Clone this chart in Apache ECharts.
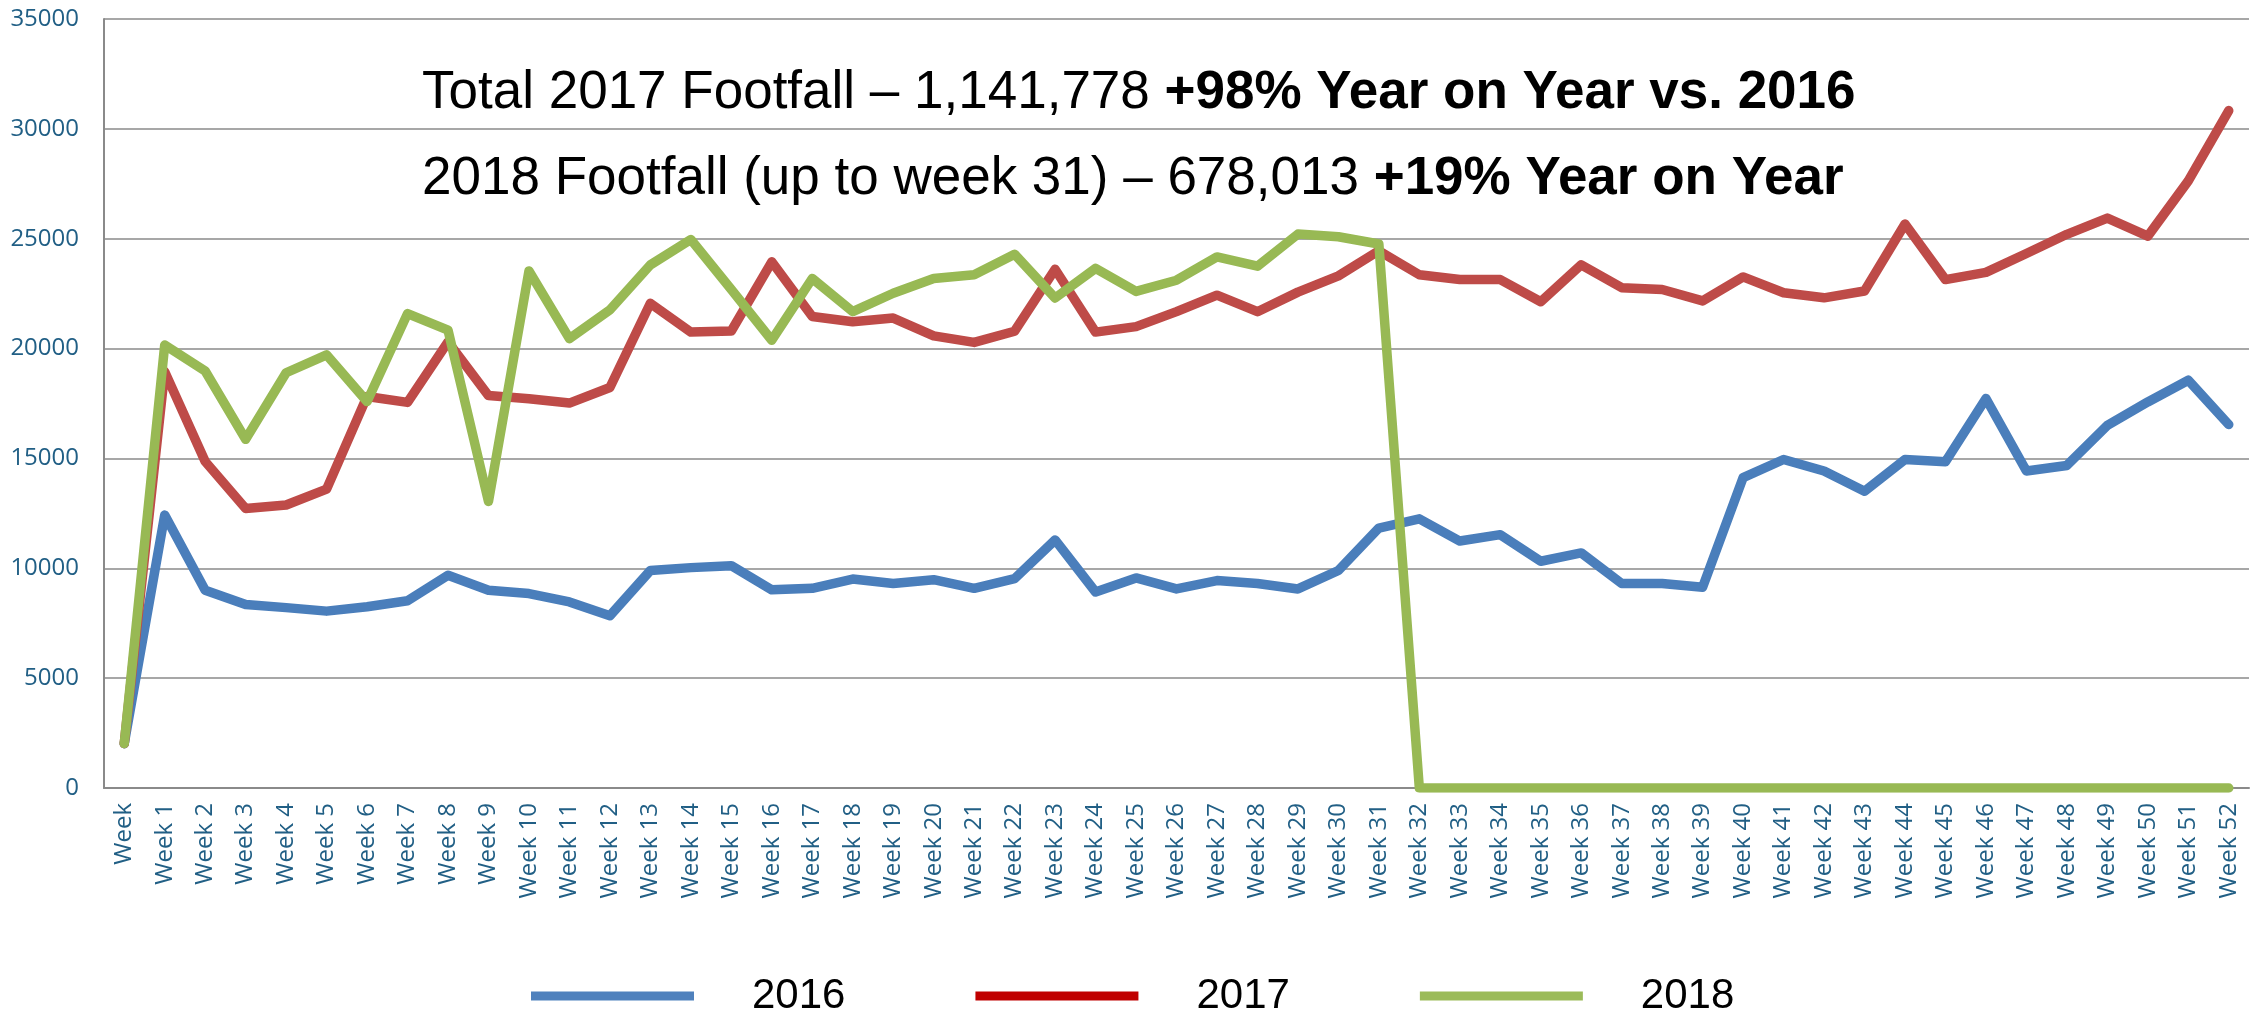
<!DOCTYPE html>
<html>
<head>
<meta charset="utf-8">
<title>Footfall</title>
<script src="https://cdn.jsdelivr.net/npm/echarts@6/dist/echarts.min.js"></script>
<style>
  html, body { margin: 0; padding: 0; background: #fff; }
  #main { width: 2262px; height: 1017px; }
</style>
</head>
<body>
<div id="main"></div>
<script>
// x 轴分类
const weeks = ['Week', 'Week 1', 'Week 2', 'Week 3', 'Week 4', 'Week 5', 'Week 6', 'Week 7', 'Week 8', 'Week 9',
  'Week 10', 'Week 11', 'Week 12', 'Week 13', 'Week 14', 'Week 15', 'Week 16', 'Week 17', 'Week 18', 'Week 19',
  'Week 20', 'Week 21', 'Week 22', 'Week 23', 'Week 24', 'Week 25', 'Week 26', 'Week 27', 'Week 28', 'Week 29',
  'Week 30', 'Week 31', 'Week 32', 'Week 33', 'Week 34', 'Week 35', 'Week 36', 'Week 37', 'Week 38', 'Week 39',
  'Week 40', 'Week 41', 'Week 42', 'Week 43', 'Week 44', 'Week 45', 'Week 46', 'Week 47', 'Week 48', 'Week 49',
  'Week 50', 'Week 51', 'Week 52'];

// footfall per week
const data2016 = [2020, 12420, 9000, 8350, 8210, 8050, 8250, 8520, 9680, 9000, 8850, 8470, 7840,
  9900, 10030, 10120, 9020, 9090, 9510, 9310, 9480, 9090, 9530, 11290, 8920, 9560,
  9060, 9440, 9310, 9060, 9900, 11830, 12250, 11240, 11530, 10320, 10700, 9310, 9310,
  9140, 14130, 14950, 14430, 13510, 14950, 14850, 17730, 14430, 14680, 16500, 17570, 18560, 16540];

const data2017 = [2020, 18950, 14860, 12720, 12880, 13600, 17820, 17550, 20300, 17860, 17720, 17520, 18230,
  22060, 20750, 20800, 23950, 21460, 21220, 21390, 20580, 20280, 20790, 23610, 20750, 21000,
  21680, 22430, 21680, 22570, 23310, 24450, 23360, 23140, 23140, 22130, 23810, 22770, 22690,
  22170, 23260, 22540, 22310, 22620, 25670, 23140, 23470, 24330, 25200, 25940, 25120, 27630, 30830];

const data2018 = [2020, 20160, 18980, 15870, 18900, 19710, 17590, 21590, 20840, 13040, 23530, 20450, 21760,
  23810, 24960, 22690, 20380, 23190, 21680, 22520, 23190, 23360, 24290, 22300, 23650, 22600,
  23110, 24170, 23750, 25210, 25090, 24760, 0, 0, 0, 0, 0, 0, 0,
  0, 0, 0, 0, 0, 0, 0, 0, 0, 0, 0, 0, 0, 0];

const yTicks = [0, 5000, 10000, 15000, 20000, 25000, 30000, 35000];

const labelColor = '#215F85';
const gridColor = '#8a8a8a';

let chart = echarts.init(document.getElementById('main'), null, { renderer: 'canvas' });

function lineSeries(name, data, color) {
  return {
    name: name,
    type: 'line',
    data: data,
    showSymbol: false,
    symbol: 'none',
    animation: false,
    lineStyle: { color: color, width: 9.5, cap: 'round', join: 'round' },
    itemStyle: { color: color }
  };
}

const option = {
  backgroundColor: '#fff',
  animation: false,
  // 标题 两行，后半部分加粗
  title: {
    left: 417,
    top: 45,
    text: '{n|Total 2017 Footfall \u2013 1,141,778 }{b|+98% Year on Year vs. 2016}\n' +
          '{n|2018 Footfall (up to week 31) \u2013 678,013 }{b|+19% Year on Year}',
    textStyle: {
      fontWeight: 'normal',
      rich: {
        n: { fontFamily: 'Liberation Sans', fontSize: 53, fontWeight: 'normal', color: '#000', lineHeight: 86 },
        b: { fontFamily: 'Liberation Sans', fontSize: 53, fontWeight: 'bold', color: '#000', lineHeight: 86 }
      }
    }
  },
  legend: {
    left: 526,
    top: 970,
    icon: 'rect',
    itemWidth: 163,
    itemHeight: 9,
    itemGap: 130,
    textStyle: {
      fontFamily: 'Liberation Sans',
      fontSize: 42,
      color: '#000',
      padding: [0, 0, 0, 53]
    },
    data: [
      { name: '2016', itemStyle: { color: '#4F81BD' } },
      { name: '2017', itemStyle: { color: '#C00000' } },
      { name: '2018', itemStyle: { color: '#9BBB59' } }
    ]
  },
  grid: { left: 104, top: 19, width: 2145, height: 769 },
  xAxis: {
    type: 'category',
    data: weeks,
    boundaryGap: true,
    axisLine: { show: true, lineStyle: { color: gridColor, width: 2 } },
    axisTick: { show: false },
    axisLabel: {
      interval: 0,
      rotate: 90,
      margin: 15,
      fontFamily: 'Open Sans',
      fontSize: 24,
      color: labelColor
    }
  },
  yAxis: {
    type: 'value',
    min: yTicks[0],
    max: yTicks[yTicks.length - 1],
    interval: 5000,
    axisLine: { show: true, lineStyle: { color: gridColor, width: 2 } },
    axisTick: { show: false },
    splitLine: { show: true, lineStyle: { color: gridColor, width: 1.5 } },
    axisLabel: {
      margin: 25,
      fontFamily: 'Open Sans',
      fontSize: 24,
      color: labelColor,
      formatter: function (v) { return String(v); }
    }
  },
  series: [
    lineSeries('2016', data2016, '#4A7EBB'),
    lineSeries('2017', data2017, '#BE4B48'),
    lineSeries('2018', data2018, '#98B954')
  ]
};

chart.setOption(option);
</script>
</body>
</html>
